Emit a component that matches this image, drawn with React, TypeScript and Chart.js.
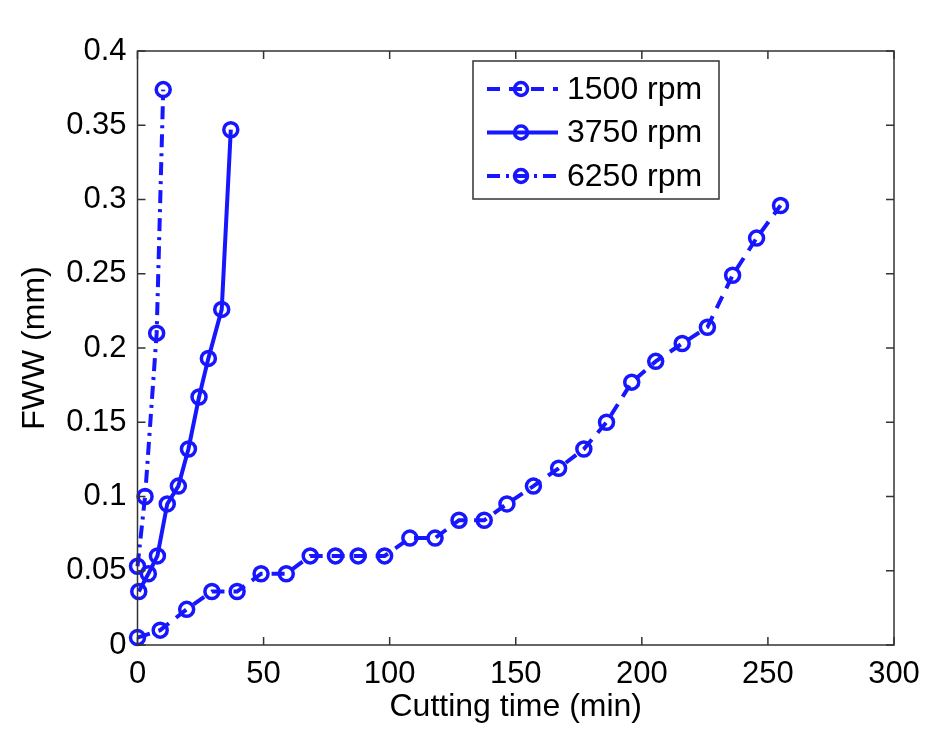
import { useEffect, useRef } from 'react';
import { Chart, registerables } from 'chart.js';

Chart.register(...registerables);

// cutting time (min) and flank wear width (mm)
const seriesNames = ['1500 rpm', '3750 rpm', '6250 rpm'];

const time1500 = [0, 9, 19.5, 29.5, 39.5, 49, 59, 68.5, 78.5, 87.5, 98, 108, 118, 127.5, 137.5, 146.5, 157, 167, 177, 186, 196, 205.5, 216, 226, 236, 245.5, 255];
const wear1500 = [0.005, 0.01, 0.024, 0.036, 0.036, 0.048, 0.048, 0.06, 0.06, 0.06, 0.06, 0.072, 0.072, 0.084, 0.084, 0.095, 0.107, 0.119, 0.132, 0.15, 0.177, 0.191, 0.203, 0.214, 0.249, 0.274, 0.296];

const time3750 = [0.5, 4.3, 7.9, 11.8, 16.2, 20.2, 24.4, 28.1, 33.4, 37];
const wear3750 = [0.036, 0.048, 0.06, 0.095, 0.107, 0.132, 0.167, 0.193, 0.226, 0.347];

const time6250 = [0, 3, 7.6, 10.2];
const wear6250 = [0.053, 0.1, 0.21, 0.374];

const xTicks = [0, 50, 100, 150, 200, 250, 300];
const yTicks = [0, 0.05, 0.1, 0.15, 0.2, 0.25, 0.3, 0.35, 0.4];
const yTickLabels = ['0', '0.05', '0.1', '0.15', '0.2', '0.25', '0.3', '0.35', '0.4'];

const BLUE = '#1616ff';
const AXIS = '#333333';
const FONT = "'Liberation Sans', Arial, sans-serif";
const dashes = [[13, 9], [], [13, 6, 3, 6]];

const toPoints = (xs: number[], ys: number[]) => xs.map((x, i) => ({ x, y: ys[i] }));

// box + inward ticks on all four sides, like matlab
const framePlugin = {
  id: 'frame',
  afterDraw(chart: any) {
    const { ctx, chartArea: a, scales } = chart;
    const len = 8;
    ctx.save();
    ctx.strokeStyle = AXIS;
    ctx.lineWidth = 1.5;
    ctx.strokeRect(a.left, a.top, a.right - a.left, a.bottom - a.top);
    ctx.beginPath();
    xTicks.forEach((v) => {
      const px = scales.x.getPixelForValue(v);
      ctx.moveTo(px, a.bottom);
      ctx.lineTo(px, a.bottom - len);
      ctx.moveTo(px, a.top);
      ctx.lineTo(px, a.top + len);
    });
    yTicks.forEach((v) => {
      const py = scales.y.getPixelForValue(v);
      ctx.moveTo(a.left, py);
      ctx.lineTo(a.left + len, py);
      ctx.moveTo(a.right, py);
      ctx.lineTo(a.right - len, py);
    });
    ctx.stroke();
    ctx.restore();
  },
};

const legendPlugin = {
  id: 'boxLegend',
  afterDraw(chart: any) {
    const { ctx } = chart;
    const box = { x: 473, y: 61, w: 246, h: 138 };
    ctx.save();
    ctx.fillStyle = '#ffffff';
    ctx.fillRect(box.x, box.y, box.w, box.h);
    ctx.strokeStyle = AXIS;
    ctx.lineWidth = 1.5;
    ctx.strokeRect(box.x, box.y, box.w, box.h);
    chart.data.datasets.forEach((ds: any, i: number) => {
      const cy = 89 + i * 43.5;
      ctx.strokeStyle = BLUE;
      ctx.lineWidth = 4;
      ctx.setLineDash(ds.borderDash || []);
      ctx.beginPath();
      ctx.moveTo(487, cy);
      ctx.lineTo(558, cy);
      ctx.stroke();
      ctx.setLineDash([]);
      ctx.lineWidth = 3.5;
      ctx.beginPath();
      ctx.arc(521, cy, 6.5, 0, Math.PI * 2);
      ctx.stroke();
      ctx.fillStyle = '#000000';
      ctx.font = `32px ${FONT}`;
      ctx.textAlign = 'left';
      ctx.textBaseline = 'middle';
      ctx.fillText(ds.label, 567, cy + 1);
    });
    ctx.restore();
  },
};

export default function App() {
  const chartRef = useRef<HTMLCanvasElement>(null);
  const chartInstance = useRef<Chart | null>(null);

  useEffect(() => {
    if (!chartRef.current) return;
    if (chartInstance.current) {
      chartInstance.current.destroy();
    }
    const ctx = chartRef.current.getContext('2d');
    if (!ctx) return;

    const lists = [toPoints(time1500, wear1500), toPoints(time3750, wear3750), toPoints(time6250, wear6250)];

    chartInstance.current = new Chart(ctx, {
      type: 'line',
      data: {
        datasets: lists.map((pts, i) => ({
          label: seriesNames[i],
          data: pts,
          borderColor: BLUE,
          borderWidth: 4,
          borderDash: dashes[i],
          pointRadius: 7,
          pointBorderWidth: 3.5,
          pointBorderColor: BLUE,
          pointBackgroundColor: 'rgba(0,0,0,0)',
          tension: 0,
          fill: false,
          clip: false as any,
        })),
      },
      options: {
        responsive: false,
        animation: false,
        layout: { padding: { left: 0, right: 53, top: 51, bottom: 0 } },
        plugins: {
          legend: { display: false },
          tooltip: { enabled: false },
        },
        scales: {
          x: {
            type: 'linear',
            min: 0,
            max: 300,
            afterBuildTicks: (scale: any) => {
              scale.ticks = xTicks.map((value) => ({ value }));
            },
            afterFit: (scale: any) => {
              scale.height = 96;
            },
            grid: { display: false, drawTicks: false },
            border: { display: false },
            ticks: {
              color: '#000',
              padding: 11,
              maxRotation: 0,
              font: { family: FONT, size: 31 },
            },
            title: {
              display: true,
              text: 'Cutting time (min)',
              color: '#000',
              padding: { top: 0, bottom: 15 },
              font: { family: FONT, size: 32 },
            },
          },
          y: {
            type: 'linear',
            min: 0,
            max: 0.4,
            afterBuildTicks: (scale: any) => {
              scale.ticks = yTicks.map((value) => ({ value }));
            },
            afterFit: (scale: any) => {
              scale.width = 137.5;
            },
            grid: { display: false, drawTicks: false },
            border: { display: false },
            ticks: {
              color: '#000',
              padding: 11,
              font: { family: FONT, size: 31 },
              callback: (v: any) => {
                const idx = yTicks.findIndex((t) => Math.abs(t - Number(v)) < 1e-9);
                return idx >= 0 ? yTickLabels[idx] : '';
              },
            },
            title: {
              display: true,
              text: 'FWW (mm)',
              color: '#000',
              padding: { top: 16, bottom: 0 },
              font: { family: FONT, size: 32 },
            },
          },
        },
      },
      plugins: [framePlugin, legendPlugin],
    });

    return () => {
      if (chartInstance.current) {
        chartInstance.current.destroy();
        chartInstance.current = null;
      }
    };
  }, []);

  return (
    <div style={{ position: 'absolute', left: 0, top: 0, width: 947, height: 741, background: '#fff' }}>
      <canvas ref={chartRef} width={947} height={741}></canvas>
    </div>
  );
}
